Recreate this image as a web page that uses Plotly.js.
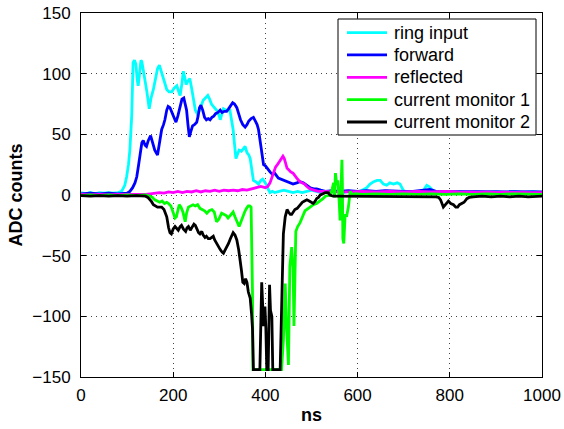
<!DOCTYPE html>
<html>
<head>
<meta charset="utf-8">
<script src="https://cdn.plot.ly/plotly-3.0.1.min.js"></script>
<style>html,body{margin:0;padding:0;background:#fff;}#chart{width:564px;height:429px;}</style>
</head>
<body>
<div id="chart"></div>
<script>
// ---- data ----
const seriesNames = ["ring input", "forward", "reflected", "current monitor 1", "current monitor 2"];

const tRing = [0,10,20,30,40,50,60,70,80,88,95,99,103,106,110,113,116,119,122,124,127,130,132,135,139,143,148,152,157,162,166,170,174,177,181,186,191,197,202,208,212,215,219,222,225,228,232,236,240,244,248,252,256,261,265,270,275,279,283,287,292,296,300,302,305,309,314,318,323,326,330,333,336,340,343,348,352,356,360,364,367,370,374,379,385,390,394,398,403,407,410,415,420,430,440,450,460,470,480,490,500,510,520,530,540,550,560,570,580,590,600,610,620,627,635,642,649,656,663,670,678,686,692,699,705,715,725,735,743,750,755,760,766,775,790,800,820,840,860,880,900,920,940,960,980,1000];
const vRing = [2,1,2,1,2,1.5,2,1.5,2,3,8,15,25,37,65,109,111,108,95,90,100,111,110,104,96,85,71,80,87,95,104,107,102,100,93,87,85,85,88,90,85,82,92,102,97,91,94,96,88,78,70,67,69,74,78,80,82,79,75,73,71,69,65,62,66,71,70,70,70,63,54,42,30,34,37,36,38,40,35,33,30,22,12,11,9,12,13,11,8,4,2,3,2,3,4,3,2,3,2,3,4,3,2,3,2,3,3,2,3,3,2,4,6,9,11,12,12,9,8,10,9,10,9,4,2,3,2,3,4,8,7,5,3,2,3,2,3,2,3,2,3,2,3,2,3,2];

const tFwd = [0,20,40,60,80,100,106,112,117,121,125,129,132,135,139,142,146,151,155,160,166,170,175,179,182,186,189,193,197,202,206,210,215,219,223,226,229,232,235,238,242,246,251,254,257,260,264,268,272,276,280,284,288,292,297,302,306,311,316,320,325,329,333,338,342,346,351,356,360,364,369,374,378,382,385,388,392,396,400,405,410,415,420,428,435,442,448,453,460,468,475,482,490,497,505,511,520,530,545,560,580,600,620,640,660,680,700,720,740,757,770,790,820,850,880,910,940,970,1000];
const vFwd = [1,1.5,1,1.5,1,1.5,3,6,10,15,25,37,43,45,41,40,45,49,44,37,33,42,54,58,62,70,73,72,68,63,60,65,73,79,80,76,70,58,48,52,57,58,60,65,72,74,70,64,62,63,62,64,65,67,68,70,68,69,69,71,74,76,75,72,67,62,58,56,58,61,63,64,61,58,54,46,33,25,24,21,19,17,18,14,13,12,11,10,9,10,11,10,8,6,5,5,4,3,3.5,3,3.5,3,3.5,3,3.5,3,3,3,3.5,4.5,3,3,2.5,3,2.5,2.5,2.5,2.5,2.5];

const tRefl = [0,20,40,60,80,100,120,140,150,160,170,180,190,200,210,220,230,240,250,260,270,280,290,300,310,320,330,340,350,360,370,380,390,400,405,410,414,418,422,426,430,434,438,441,444,447,450,455,460,465,470,475,480,485,490,497,505,515,530,550,580,610,640,670,700,730,760,790,820,850,880,910,940,970,1000];
const vRefl = [0.5,0,0.5,0,0.5,0.5,0,0.5,1,1.5,2,1.5,2.5,2,3,2,3,2.5,3.5,2.5,3.5,3,4,3,4,3.5,4,3.5,4.5,4,5,6,7,6,7,10,15,20,23,25,27,30,32,30,26,22,21,19,18,15,13,11,10,9,7,5,4,3,3,2.5,2.5,3,2.5,3,2.5,3,2.5,3,2.5,2.5,2,2.5,2,2.5,2];

const tCm1 = [0,20,40,60,80,100,120,140,150,155,160,165,171,176,181,186,190,195,200,204,207,210,213,217,221,226,229,233,238,243,248,253,258,263,268,273,278,284,289,294,299,305,310,315,319,324,330,334,339,343,347,351,355,359,363,366,369,372,373,380,390,400,410,420,435,439,443,446,450,453,457,460,462,466,470,475,480,486,497,504,511,519,525,530,537,541,545,548,550,552,555,557,560,562,564,566,567,568,570,573,576,580,584,588,595,610,640,670,700,730,760,790,820,850,880,910,940,970,1000];
const vCm1 = [-0.5,0,-0.5,0,-0.5,0,-0.5,0,-1,-2,-4,-5,-6,-5,-7,-6,-7,-9,-14,-19,-18,-12,-8,-10,-14,-22,-15,-10,-9,-8,-9,-8,-11,-12,-13,-15,-13,-12,-14,-22,-20,-15,-16,-17,-19,-17,-14,-18,-22,-26,-22,-17,-14,-11,-9,-9,-10,-80,-144,-144,-144,-144,-144,-144,-144,-120,-73,-110,-140,-59,-43,-60,-108,-30,-26,-23,-18,-13,-10,-8,-7,-5,-3,-1,0,0,5,10,-2,18,8,12,-5,-21,5,29,10,-36,-40,-16,-18,-10,3,0,1,0.5,1,0.5,1,0.5,1,0.5,1,0.5,1,0.5,1,0.5,0.5];

const tCm2 = [0,20,40,60,80,100,120,140,145,150,153,157,161,166,170,175,180,183,186,190,193,196,200,204,208,211,215,218,222,227,230,233,237,241,245,248,251,255,258,262,265,269,272,276,280,283,287,290,294,298,302,306,309,313,316,320,324,327,330,334,338,342,345,348,351,354,357,360,363,367,370,372,374,388,392,396,399,401,403,406,409,411,414,416,432,436,439,443,447,450,454,457,461,464,469,475,480,485,490,495,500,504,508,511,515,519,525,530,536,540,547,555,565,575,590,610,630,650,670,690,710,730,750,770,776,780,786,791,797,802,808,813,817,821,826,831,837,842,850,870,890,910,930,950,970,1000];
const vCm2 = [-0.5,-1,-0.5,-1,-0.5,-1,-0.5,-1,-2,-4,-5.5,-8,-9,-10,-10,-10,-12,-15,-18,-27,-31,-32,-28,-26,-28,-29,-26,-25,-28,-30,-27,-26,-29,-26,-24,-25,-28,-31,-32,-30,-33,-35,-34,-36,-36,-35,-34,-37,-40,-43,-45,-47,-48,-45,-43,-40,-36,-33,-31,-33,-37,-45,-52,-62,-72,-73,-69,-72,-80,-85,-98,-110,-144,-144,-72,-108,-92,-110,-144,-144,-74,-95,-100,-144,-144,-80,-32,-18,-12,-14,-16,-16,-13,-12,-11,-8,-6,-5,-4,-5,-6,-7,-5,-3,-2,0,1,2,2,0,-1,-1,-1.5,-1,-1.5,-1,-1.5,-1,-1.5,-1,-1.5,-1,-1.5,-1.5,-2,-4,-10,-8,-5,-7,-8,-10,-10,-8,-7,-6,-3,-2,-1.5,-1,-1.5,-1,-1.5,-1,-1.5,-1];

const seriesColors = ["#00ffff", "#0000ff", "#ff00ff", "#00ff00", "#000000"];
const xTickVals = [0, 200, 400, 600, 800, 1000];
const yTickVals = [-150, -100, -50, 0, 50, 100, 150];

// ---- traces ----
const xs = [tRing, tFwd, tRefl, tCm1, tCm2];
const ys = [vRing, vFwd, vRefl, vCm1, vCm2];
const LW = 2.8;
const traces = seriesNames.map((name, i) => ({
  type: "scatter", mode: "lines", name: name,
  x: xs[i], y: ys[i],
  line: {color: seriesColors[i], width: LW}
}));

const fam = "Liberation Sans, Arial, Helvetica, sans-serif";
const font = {family: fam, size: 17, color: "#000"};
const titleFont = {family: fam, size: 18, color: "#000"};
const legendFont = {family: fam, size: 18, color: "#000"};
const axisCommon = {
  showline: true, linecolor: "#000", linewidth: 1, mirror: "ticks",
  ticks: "inside", ticklen: 5, tickcolor: "#000", tickwidth: 1,
  showgrid: true, gridcolor: "#444", gridwidth: 1, griddash: "1px,4px",
  zeroline: false, tickfont: font
};

// ---- MATLAB-style legend box (frame, line samples, labels) in paper coordinates ----
const legBox = {x0: 0.5575, x1: 0.987, y0: 0.6648, y1: 0.9835};
const legRowTop = 0.9462, legRowStep = 0.0614;
const legLineX0 = 0.5770, legLineX1 = 0.6638, legTextX = 0.6768;
const shapes = [{
  type: "rect", xref: "paper", yref: "paper", layer: "above",
  x0: legBox.x0, x1: legBox.x1, y0: legBox.y0, y1: legBox.y1,
  fillcolor: "#fff", line: {color: "#000", width: 1}
}];
const annotations = [];
seriesNames.forEach((name, i) => {
  const yy = legRowTop - i * legRowStep;
  shapes.push({
    type: "line", xref: "paper", yref: "paper", layer: "above",
    x0: legLineX0, x1: legLineX1, y0: yy, y1: yy,
    line: {color: seriesColors[i], width: LW}
  });
  annotations.push({
    xref: "paper", yref: "paper", x: legTextX, y: yy,
    xanchor: "left", yanchor: "middle", showarrow: false,
    text: name, font: legendFont, borderpad: 0
  });
});

const layout = {
  width: 564, height: 429,
  margin: {l: 81, r: 22, t: 13, b: 52},
  paper_bgcolor: "#fff", plot_bgcolor: "#fff",
  font: font,
  showlegend: false,
  xaxis: Object.assign({}, axisCommon, {
    range: [0, 1000], tickvals: xTickVals, ticklabelstandoff: 3,
    title: {text: "<b>ns</b>", font: titleFont, standoff: 3}
  }),
  yaxis: Object.assign({}, axisCommon, {
    range: [-150, 150], tickvals: yTickVals, ticklabelstandoff: 6,
    title: {text: "<b>ADC counts</b>", font: titleFont, standoff: 5}
  }),
  shapes: shapes,
  annotations: annotations
};

Plotly.newPlot("chart", traces, layout, {staticPlot: true, displayModeBar: false});
</script>
</body>
</html>
